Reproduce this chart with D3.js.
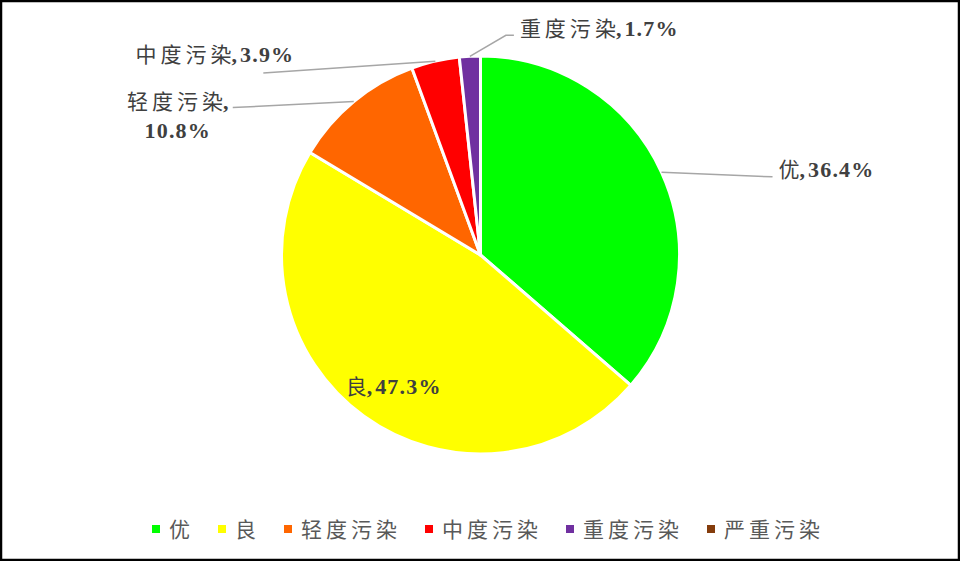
<!DOCTYPE html>
<html>
<head>
<meta charset="utf-8">
<script src="https://cdn.jsdelivr.net/npm/d3@7/dist/d3.min.js"></script>
<style>
  html, body { margin: 0; padding: 0; background: #fff; }
  svg { display: block; }
</style>
</head>
<body>
<svg id="chart" width="960" height="561"></svg>
<script>
// ---- data ----
const categories = ["优", "良", "轻度污染", "中度污染", "重度污染", "严重污染"];
const shares = [36.4, 47.3, 10.8, 3.9, 1.7, 0.0];
const labelTexts = ["36.4%", "47.3%", "10.8%", "3.9%", "1.7%", "0.0%"];
const colors = ["#00FF00", "#FFFF00", "#FF6600", "#FF0000", "#7030A0", "#843C0C"];

// ---- layout (label placement relative to slice edge point) ----
const labelLayout = [
  { type: "side", line: [[111, 4.5]], tx: 117, ty: 5, anchor: "start" },
  { type: "inside", tx: 30, ty: -22, anchor: "middle" },
  { type: "two", line: [[-121, 6]], tx: -176, ty: 7, ty2: 36, anchor: "middle" },
  { type: "side", line: [[-172, 11.7]], tx: -141, ty: 1, anchor: "end" },
  { type: "side", line: [[36, -21], [44, -21]], tx: 50, ty: -20, anchor: "start" },
  null
];

const W = 960, H = 561;
const cx = 480.5, cy = 255, R = 199;
const svg = d3.select("#chart");

// frame
svg.append("rect").attr("x", 1).attr("y", 1).attr("width", W - 2).attr("height", H - 2)
  .attr("fill", "#fff").attr("stroke", "#000").attr("stroke-width", 2.5);

const data = categories.map((c, i) => ({ name: c, value: shares[i], label: labelTexts[i], color: colors[i], i }));

const pie = d3.pie().sort(null).value(d => d.value);
const arcs = pie(data);
const arc = d3.arc().innerRadius(0).outerRadius(R);
const edge = d3.arc().innerRadius(R).outerRadius(R);

const g = svg.append("g").attr("transform", `translate(${cx},${cy})`);
g.selectAll("path.slice").data(arcs.filter(a => a.data.value > 0)).join("path")
  .attr("class", "slice")
  .attr("d", arc)
  .attr("fill", d => d.data.color)
  .attr("stroke", "#fff")
  .attr("stroke-width", 3)
  .attr("stroke-linejoin", "round");

const cjk = "'Noto Sans CJK SC', sans-serif";
const serif = "'Liberation Serif', 'Times New Roman', serif";
const textColor = "#404040";

function addName(sel, name, size) {
  if (name.length > 1) sel.append("tspan").attr("font-family", cjk).attr("font-size", size)
    .attr("letter-spacing", 4).text(name.slice(0, -1));
  sel.append("tspan").attr("font-family", cjk).attr("font-size", size).text(name.slice(-1));
}
function addLabel(sel, name, num, withNum) {
  addName(sel, name, 21);
  sel.append("tspan").attr("font-family", serif).attr("font-weight", "bold")
    .attr("font-size", 22).text(",");
  if (withNum) sel.append("tspan").attr("font-family", serif).attr("font-weight", "bold")
    .attr("font-size", 22).attr("letter-spacing", 1.2).attr("dx", 3).text(num);
}

arcs.forEach((a, i) => {
  const L = labelLayout[i];
  if (!L || a.data.value <= 0) return;
  const p = edge.centroid(a);
  if (L.type === "inside") {
    const t = g.append("text").attr("x", p[0] + L.tx).attr("y", p[1] + L.ty)
      .attr("text-anchor", L.anchor).attr("fill", textColor);
    addLabel(t, a.data.name, a.data.label, true);
    return;
  }
  const pts = [p].concat(L.line.map(o => [p[0] + o[0], p[1] + o[1]]));
  g.append("path").attr("d", d3.line()(pts)).attr("fill", "none")
    .attr("stroke", "#A6A6A6").attr("stroke-width", 1.5);
  if (L.type === "two") {
    const t1 = g.append("text").attr("x", p[0] + L.tx).attr("y", p[1] + L.ty)
      .attr("text-anchor", L.anchor).attr("fill", textColor);
    addLabel(t1, a.data.name, a.data.label, false);
    g.append("text").attr("x", p[0] + L.tx).attr("y", p[1] + L.ty2)
      .attr("text-anchor", L.anchor).attr("fill", textColor)
      .attr("font-family", serif).attr("font-weight", "bold").attr("font-size", 22)
      .attr("letter-spacing", 1.2)
      .text(a.data.label);
  } else {
    const t = g.append("text").attr("x", p[0] + L.tx).attr("y", p[1] + L.ty)
      .attr("text-anchor", L.anchor).attr("fill", textColor);
    addLabel(t, a.data.name, a.data.label, true);
  }
});

// ---- legend ----
const legend = svg.append("g");
const items = legend.selectAll("g.item").data(data).join("g").attr("class", "item");
items.append("rect").attr("width", 8).attr("height", 8).attr("y", 525).attr("fill", d => d.color);
items.append("text").attr("x", 17).attr("y", 537)
  .attr("font-family", cjk).attr("font-size", 21).attr("letter-spacing", 4)
  .attr("fill", "#595959").text(d => d.name);
let widths = [];
items.each(function () { widths.push(this.querySelector("text").getComputedTextLength() + 17); });
const gap = 24;
const total = d3.sum(widths) + gap * (widths.length - 1);
let x0 = 488 - total / 2;
items.attr("transform", (d, i) => {
  const x = x0; x0 += widths[i] + gap; return `translate(${x},0)`;
});
</script>
</body>
</html>
